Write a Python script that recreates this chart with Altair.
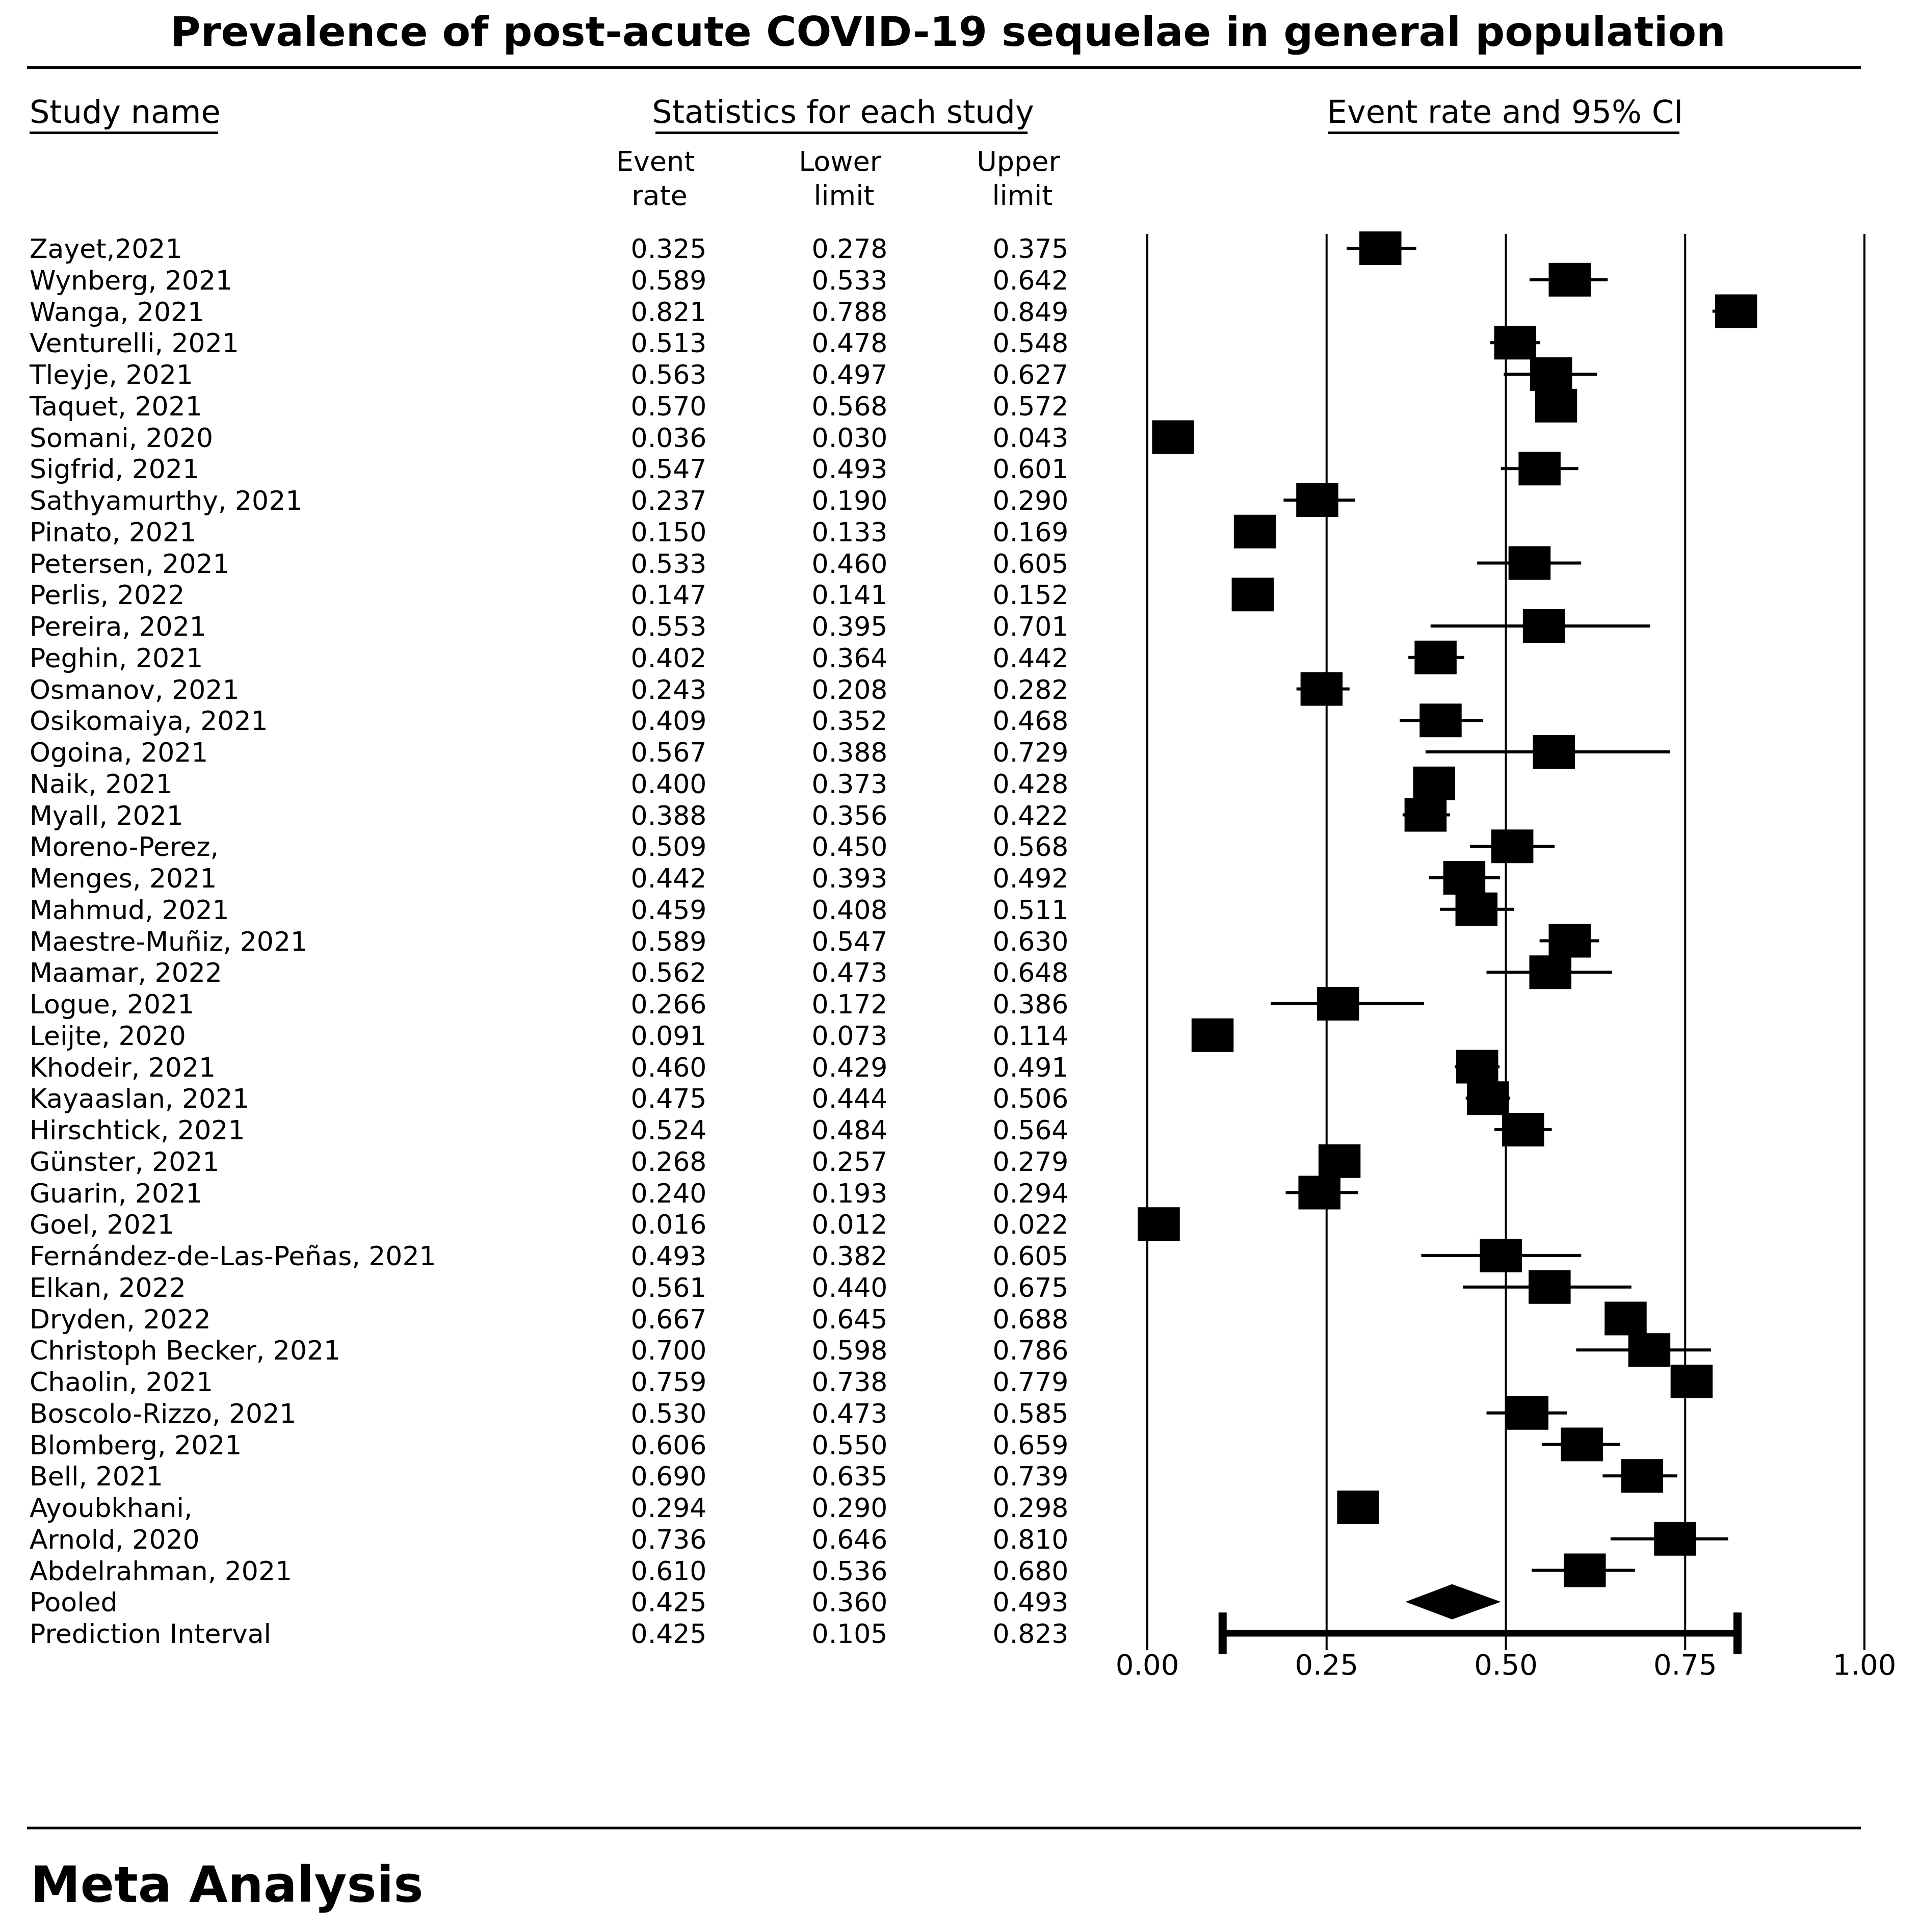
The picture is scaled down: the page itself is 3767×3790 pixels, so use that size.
import altair as alt
import pandas as pd

# ---------------- data ----------------
study_names = [
    "Zayet,2021", "Wynberg, 2021", "Wanga, 2021", "Venturelli, 2021", "Tleyje, 2021",
    "Taquet, 2021", "Somani, 2020", "Sigfrid, 2021", "Sathyamurthy, 2021", "Pinato, 2021",
    "Petersen, 2021", "Perlis, 2022", "Pereira, 2021", "Peghin, 2021", "Osmanov, 2021",
    "Osikomaiya, 2021", "Ogoina, 2021", "Naik, 2021", "Myall, 2021", "Moreno-Perez,",
    "Menges, 2021", "Mahmud, 2021", "Maestre-Muñiz, 2021", "Maamar, 2022", "Logue, 2021",
    "Leijte, 2020", "Khodeir, 2021", "Kayaaslan, 2021", "Hirschtick, 2021", "Günster, 2021",
    "Guarin, 2021", "Goel, 2021", "Fernández-de-Las-Peñas, 2021", "Elkan, 2022", "Dryden, 2022",
    "Christoph Becker, 2021", "Chaolin, 2021", "Boscolo-Rizzo, 2021", "Blomberg, 2021", "Bell, 2021",
    "Ayoubkhani,", "Arnold, 2020", "Abdelrahman, 2021",
]
event_rate = [
    0.325, 0.589, 0.821, 0.513, 0.563, 0.570, 0.036, 0.547, 0.237, 0.150,
    0.533, 0.147, 0.553, 0.402, 0.243, 0.409, 0.567, 0.400, 0.388, 0.509,
    0.442, 0.459, 0.589, 0.562, 0.266, 0.091, 0.460, 0.475, 0.524, 0.268,
    0.240, 0.016, 0.493, 0.561, 0.667, 0.700, 0.759, 0.530, 0.606, 0.690,
    0.294, 0.736, 0.610,
]
lower_limit = [
    0.278, 0.533, 0.788, 0.478, 0.497, 0.568, 0.030, 0.493, 0.190, 0.133,
    0.460, 0.141, 0.395, 0.364, 0.208, 0.352, 0.388, 0.373, 0.356, 0.450,
    0.393, 0.408, 0.547, 0.473, 0.172, 0.073, 0.429, 0.444, 0.484, 0.257,
    0.193, 0.012, 0.382, 0.440, 0.645, 0.598, 0.738, 0.473, 0.550, 0.635,
    0.290, 0.646, 0.536,
]
upper_limit = [
    0.375, 0.642, 0.849, 0.548, 0.627, 0.572, 0.043, 0.601, 0.290, 0.169,
    0.605, 0.152, 0.701, 0.442, 0.282, 0.468, 0.729, 0.428, 0.422, 0.568,
    0.492, 0.511, 0.630, 0.648, 0.386, 0.114, 0.491, 0.506, 0.564, 0.279,
    0.294, 0.022, 0.605, 0.675, 0.688, 0.786, 0.779, 0.585, 0.659, 0.739,
    0.298, 0.810, 0.680,
]
pooled = {"name": "Pooled", "rate": 0.425, "lower": 0.360, "upper": 0.493}
prediction = {"name": "Prediction Interval", "rate": 0.425, "lower": 0.105, "upper": 0.823}
axis_ticks = [0.00, 0.25, 0.50, 0.75, 1.00]
stat_columns = ["Event rate", "Lower limit", "Upper limit"]

TITLE = "Prevalence of post-acute COVID-19 sequelae in general population"
FOOTER = "Meta Analysis"

assert len(study_names) == len(event_rate) == len(lower_limit) == len(upper_limit)

# ---------------- tables ----------------
n_st = len(study_names)
studies = pd.DataFrame({
    "idx": list(range(n_st)),
    "name": study_names,
    "rate": event_rate,
    "lower": lower_limit,
    "upper": upper_limit,
})
pooled_idx = n_st
pi_idx = n_st + 1
all_rows = pd.concat([
    studies,
    pd.DataFrame([{**pooled, "idx": pooled_idx}, {**prediction, "idx": pi_idx}]),
], ignore_index=True)

long_rows = []
for _, r in all_rows.iterrows():
    for col, key in zip(stat_columns, ["rate", "lower", "upper"]):
        long_rows.append({"idx": r["idx"], "stat": col, "v": r[key]})
stats_long = pd.DataFrame(long_rows)

# ---------------- styles / layout ----------------
FONT = "DejaVu Sans"
ROW_FS = 52
HEAD_FS = 62
SUB_FS = 54
W, H = 3751, 3774
YSCALE = alt.Scale(domain=[0, pi_idx], range=[479, 3196], nice=False, zero=False)
XSCALE = alt.Scale(domain=[0, 1], range=[2243, 3650], nice=False, zero=False)
DIAMOND_HALF = 0.56   # in row units
CAP_HALF = 0.66       # in row units
BOX_PATH = "M-1.25,-1H1.25V1H-1.25Z"


def one(label):
    return pd.DataFrame({"t": [label]})


def text_at(label, x, y, align="center", size=HEAD_FS, weight="normal"):
    return alt.Chart(one(label)).mark_text(
        align=align, baseline="alphabetic", font=FONT, fontSize=size,
        fontWeight=weight, color="black"
    ).encode(x=alt.value(x), y=alt.value(y), text="t:N")


def hline(x1, x2, y, w=5):
    return alt.Chart(one("l")).mark_rule(color="black", strokeWidth=w).encode(
        x=alt.value(x1), x2=alt.value(x2), y=alt.value(y)
    )


layers = []

# title and frame lines
layers.append(text_at(TITLE, 1852, 82, size=81, weight="bold"))
layers.append(hline(45, 3643, 124.5))
layers.append(hline(45, 3643, 3578))
layers.append(text_at(FOOTER, 52, 3723, align="left", size=98, weight="bold"))

# column headers
layers.append(text_at("Study name", 50, 233, align="left"))
layers.append(text_at("Statistics for each study", 1646, 233))
layers.append(text_at("Event rate and 95% CI", 2945, 233))
layers.append(hline(50, 420, 252.5))
layers.append(hline(1278, 2008, 252.5))
layers.append(hline(2598, 3287, 252.5))
for (l1, l2), cx in zip([("Event", "rate"), ("Lower", "limit"), ("Upper", "limit")],
                        [1278, 1640, 1990]):
    layers.append(text_at(l1, cx, 327, size=SUB_FS))
    layers.append(text_at(l2, cx + 8, 394, size=SUB_FS))

# study names
layers.append(
    alt.Chart(all_rows).mark_text(
        align="left", baseline="alphabetic", dy=19, font=FONT, fontSize=ROW_FS, color="black"
    ).encode(
        x=alt.value(50),
        y=alt.Y("idx:Q", scale=YSCALE, axis=None),
        text="name:N",
    )
)

# statistic columns
layers.append(
    alt.Chart(stats_long).mark_text(
        align="center", baseline="alphabetic", dy=19, font=FONT, fontSize=ROW_FS, color="black"
    ).encode(
        x=alt.X("stat:N", scale=alt.Scale(type="point", domain=stat_columns,
                                          range=[1304, 2014], padding=0), axis=None),
        y=alt.Y("idx:Q", scale=YSCALE, axis=None),
        text=alt.Text("v:Q", format=".3f"),
    )
)

# vertical reference lines
ticks_df = pd.DataFrame({"tick": axis_ticks})
layers.append(
    alt.Chart(ticks_df).mark_rule(color="black", strokeWidth=4).encode(
        x=alt.X("tick:Q", scale=XSCALE, axis=None),
        y=alt.value(451), y2=alt.value(3229),
    )
)
layers.append(
    alt.Chart(ticks_df).mark_text(
        align="center", baseline="alphabetic", font=FONT, fontSize=56, color="black"
    ).encode(
        x=alt.X("tick:Q", scale=XSCALE, axis=None),
        y=alt.value(3277),
        text=alt.Text("tick:Q", format=".2f"),
    )
)

# confidence intervals
layers.append(
    alt.Chart(studies).mark_rule(color="black", strokeWidth=6).encode(
        x=alt.X("lower:Q", scale=XSCALE, axis=None),
        x2="upper:Q",
        y=alt.Y("idx:Q", scale=YSCALE, axis=None),
    )
)
# study boxes
layers.append(
    alt.Chart(studies).mark_point(
        shape=BOX_PATH, filled=True, size=4356, color="black", opacity=1, strokeWidth=0
    ).encode(
        x=alt.X("rate:Q", scale=XSCALE, axis=None),
        y=alt.Y("idx:Q", scale=YSCALE, axis=None),
    )
)

# pooled diamond
diamond = pd.DataFrame({
    "x": [pooled["lower"], pooled["rate"], pooled["upper"]],
    "ytop": [pooled_idx, pooled_idx - DIAMOND_HALF, pooled_idx],
    "ybot": [pooled_idx, pooled_idx + DIAMOND_HALF, pooled_idx],
})
layers.append(
    alt.Chart(diamond).mark_area(color="black", opacity=1, orient="vertical").encode(
        x=alt.X("x:Q", scale=XSCALE, axis=None),
        y=alt.Y("ytop:Q", scale=YSCALE, axis=None),
        y2="ybot:Q",
    )
)

# prediction interval
pi_df = pd.DataFrame({"lower": [prediction["lower"]], "upper": [prediction["upper"]], "idx": [pi_idx]})
layers.append(
    alt.Chart(pi_df).mark_rule(color="black", strokeWidth=13).encode(
        x=alt.X("lower:Q", scale=XSCALE, axis=None),
        x2="upper:Q",
        y=alt.Y("idx:Q", scale=YSCALE, axis=None),
    )
)
caps = pd.DataFrame({
    "x": [prediction["lower"], prediction["upper"]],
    "y1": [pi_idx - CAP_HALF] * 2,
    "y2": [pi_idx + CAP_HALF] * 2,
})
layers.append(
    alt.Chart(caps).mark_rule(color="black", strokeWidth=16).encode(
        x=alt.X("x:Q", scale=XSCALE, axis=None),
        y=alt.Y("y1:Q", scale=YSCALE, axis=None),
        y2="y2:Q",
    )
)

chart = alt.layer(*layers).resolve_scale(x="independent").properties(
    width=W, height=H, padding=0,
    autosize=alt.AutoSizeParams(type="none"),
    background="white",
).configure_view(stroke=None)

chart.save("out.html", embed_options={"renderer": "svg", "actions": False})
